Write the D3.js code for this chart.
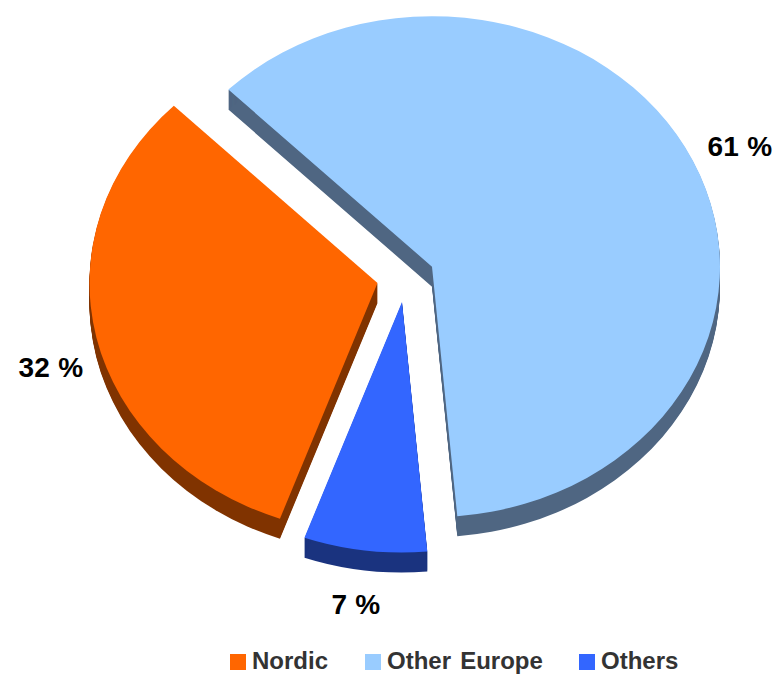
<!DOCTYPE html>
<html>
<head>
<meta charset="utf-8">
<script src="https://d3js.org/d3.v7.min.js"></script>
<title>Pie</title>
<style>
    html, body { margin: 0; padding: 0; background: #fff; }
    svg { display: block; }
    text { font-family: "Liberation Sans", Arial, sans-serif; font-weight: bold; }
</style>
</head>
<body>
<svg id="chart" width="780" height="677"></svg>
<script>
// order matches the reference, clockwise from the upper left
const categories = ["Other Europe", "Others", "Nordic"];
const shares = [61.1, 6.9, 32];
const legendOrder = ["Nordic", "Other Europe", "Others"];

const topColors = d3.scaleOrdinal().domain(categories).range(["#99ccff", "#3366ff", "#ff6600"]);
const sideColors = d3.scaleOrdinal().domain(categories).range(["#4f6682", "#1a337f", "#803300"]);

const rx = 288, ry = 250.5, depth = 20;
// where each slice's tip ends up after exploding
const tips = { "Other Europe": [432, 266.7], "Others": [402, 302], "Nordic": [377.5, 283] };
const labelPos = { "Other Europe": [740, 146], "Others": [356, 604], "Nordic": [51, 367] };

const svg = d3.select("#chart");

const pie = d3.pie().sort(null).startAngle(-Math.PI / 4).endAngle(Math.PI * 7 / 4);
const slices = pie(shares).map((d, i) => ({ ...d, name: categories[i] }));
const arc = d3.arc().innerRadius(0).outerRadius(rx);
const yScale = ry / rx;

// side walls: the slice repeated downwards, one pixel per step
slices.forEach(s => {
    const [cx, cy] = tips[s.name];
    svg.append("g").selectAll("path")
        .data(d3.range(1, depth + 1))
        .join("path")
        .attr("d", arc(s))
        .attr("fill", sideColors(s.name))
        .attr("transform", k => `translate(${cx},${cy + k}) scale(1,${yScale})`);
});

// top faces
svg.append("g").selectAll("path")
    .data(slices)
    .join("path")
    .attr("d", arc)
    .attr("fill", d => topColors(d.name))
    .attr("transform", d => `translate(${tips[d.name][0]},${tips[d.name][1]}) scale(1,${yScale})`);

// percent labels
svg.append("g").selectAll("text")
    .data(slices)
    .join("text")
    .attr("x", d => labelPos[d.name][0])
    .attr("y", d => labelPos[d.name][1])
    .attr("dy", "0.35em")
    .attr("text-anchor", "middle")
    .attr("font-size", 28)
    .attr("letter-spacing", 0.3)
    .attr("fill", "#000")
    .text(d => `${d3.format(".0f")(d.value)} %`);

// legend
const legendX = d3.scaleOrdinal().domain(legendOrder).range([230, 365, 579]);
const legend = svg.append("g").selectAll("g")
    .data(legendOrder)
    .join("g")
    .attr("transform", d => `translate(${legendX(d)},654)`);
legend.append("rect")
    .attr("width", 16)
    .attr("height", 16)
    .attr("fill", d => topColors(d));
legend.append("text")
    .attr("x", 22)
    .attr("y", 15)
    .attr("font-size", 24)
    .attr("word-spacing", 2.5)
    .attr("fill", "#333")
    .text(d => d);
</script>
</body>
</html>
